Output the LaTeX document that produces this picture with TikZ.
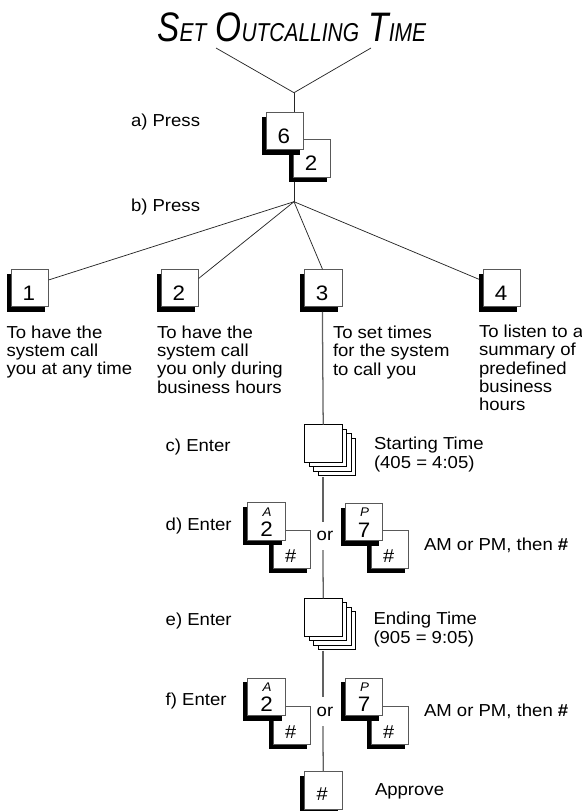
\documentclass[tikz,border=0pt]{standalone}
\usepackage{fontspec}
\setmainfont[FakeStretch=1.07]{Liberation Sans}
\newfontfamily\titlef[FakeStretch=0.81]{Liberation Sans}
\tikzset{x=0.75pt,y=-0.75pt,
 lbl/.style={inner sep=0,outer sep=0,anchor=north west,align=left,font=\fontsize{13}{13.75}\selectfont},
 stepl/.style={inner sep=0,outer sep=0,anchor=base west,font=\fontsize{13}{13.75}\selectfont},
 keyface/.style={draw=black!65,line width=0.7pt,fill=white,minimum width=28.2pt,minimum height=28.2pt,inner sep=0,outer sep=0,anchor=north west},
 stackface/.style={draw=black,line width=0.6pt,fill=white,minimum width=28.2pt,minimum height=28.2pt,inner sep=0,outer sep=0,anchor=north west},
 conn/.style={draw=black!85,line width=0.55pt},
 stem/.style={draw=black!62,line width=0.95pt},
 shade/.style={fill=black,draw=none},
 keydigit/.style={font=\fontsize{15.7}{16}\selectfont,inner sep=0},
 hashdigit/.style={font=\fontsize{14}{14}\selectfont,inner sep=0},
 keyletter/.style={font=\fontsize{9.4}{10}\selectfont\itshape,inner sep=0}}
% #1 name, #2 x, #3 y : key face with its shadow; (#1 bot) is the foot of the shadow
\newcommand{\pface}[3]{%
 \fill[shade] (#2-4.5,#3+4.3) rectangle (#2,#3+42.6);
 \fill[shade] (#2-4.5,#3+38) rectangle (#2+34,#3+42.6);
 \node[keyface] (#1) at (#2,#3) {};
 \coordinate (#1 bot) at (#2+18,#3+42.6);}
\newcommand{\pkey}[4]{\pface{#1}{#2}{#3}\node[keydigit] (#1 d) at (#2+17.8,#3+24) {#4};}
\newcommand{\hkey}[4]{\pface{#1}{#2}{#3}\node[hashdigit] (#1 d) at (#2+17.8,#3+#4) {\#};}
\newcommand{\akey}[5]{\pface{#1}{#2}{#3}%
 \node[keyletter] (#1 l) at (#2+19.5,#3+9) {#5};
 \node[keydigit] (#1 d) at (#2+19,#3+26.5) {#4};}
\newcommand{\stackkey}[3]{%
 \foreach \k in {3,2,1} \node[stackface] at (#2+4.5*\k,#3+4.5*\k) {};
 \node[stackface] (#1) at (#2,#3) {};
 \coordinate (#1 bot) at (#2+18.6,#3+52.4);}
\begin{document}
\begin{tikzpicture}
\useasboundingbox (0,0) rectangle (582,811);
% keys
\pkey{kb}{293.3}{139.5}{2}
\pkey{ka}{266}{112.3}{6}
\pkey{k1}{11}{269.3}{1}
\pkey{k2}{161}{269.3}{2}
\pkey{k3}{304.4}{269.3}{3}
\pkey{k4}{483.3}{269.3}{4}
\stackkey{c}{304.4}{424.7}
\stackkey{e}{304.4}{598.3}
\hkey{dh}{273}{530.7}{25}
\akey{d2}{247.7}{502.7}{2}{A}
\hkey{dhb}{371}{530.7}{25}
\akey{d7}{345}{503.3}{7}{P}
\hkey{fh}{273}{706.7}{25}
\akey{f2}{247.7}{678}{2}{A}
\hkey{fhb}{371}{706.7}{25}
\akey{f7}{345}{678}{7}{P}
\hkey{ap}{304.4}{771.7}{22.5}
% title
\node[inner sep=0,anchor=base west,font=\fontsize{30.9}{31}\selectfont\titlef\itshape] (title) at (157,41.5) {S{\fontsize{19.4}{20}\selectfont ET} O{\fontsize{19.4}{20}\selectfont UTCALLING} T{\fontsize{19.4}{20}\selectfont IME}};
% connectors
\coordinate (ta) at (216,48);
\coordinate (tb) at (371,48);
\coordinate (tj) at (294,92.7);
\coordinate (bj) at (294,201.7);
\coordinate (k4c) at (479,279.3);
\coordinate (orA) at (323,522);
\coordinate (orB) at (323,550);
\coordinate (orC) at (323,697);
\coordinate (orD) at (323,726);
\draw[conn] (ta) -- (tj) -- (tb);
\draw[conn] (tj) -- (tj|-ka.north);
\draw[conn] (bj|-kb bot) -- (bj);
\draw[conn] (bj) -- ([yshift=-8pt]k1.north east);
\draw[conn] (bj) -- ([yshift=-6.9pt]k2.north east);
\draw[conn] (bj) -- ([xshift=-0.5pt]k3.north);
\draw[conn] (bj) -- (k4c);
\draw[stem] (k3 bot) -- (c.north);
\draw[stem] (c bot) -- (orA);
\draw[stem] (orB) -- (e.north);
\draw[stem] (e bot) -- (orC);
\draw[stem] (orD) -- (ap.north);
% texts
\node[stepl] (sa) at (131,126.7) {a) Press};
\node[stepl] (sb) at (131,211.7) {b) Press};
\node[lbl] (t1) at (6.5,325.7) {To have the\\system call\\you at any time};
\node[lbl] (t2) at (157,325.7) {To have the\\system call\\you only during\\business hours};
\node[lbl] (t3) at (333,326) {To set times\\for the system\\to call you};
\node[lbl] (t4) at (479,325) {To listen to a\\summary of\\predefined\\business\\hours};
\node[stepl] (sc) at (165.7,451.7) {c) Enter};
\node[stepl] (sd) at (165.7,530) {d) Enter};
\node[stepl] (se) at (165.7,625) {e) Enter};
\node[stepl] (sf) at (165.7,705.7) {f) Enter};
\node[lbl] (st) at (374,437.4) {Starting Time\\(405 = 4:05)};
\node[lbl] (et) at (373.5,612.4) {Ending Time\\(905 = 9:05)};
\node[stepl] (or1) at (316.7,540.5) {or};
\node[stepl] (or2) at (316.7,716.7) {or};
\node[stepl] (ap1) at (424,550) {AM or PM, then \textbf{\#}};
\node[stepl] (ap2) at (424,716.7) {AM or PM, then \textbf{\#}};
\node[stepl] (app) at (375,795) {Approve};
\end{tikzpicture}
\end{document}
